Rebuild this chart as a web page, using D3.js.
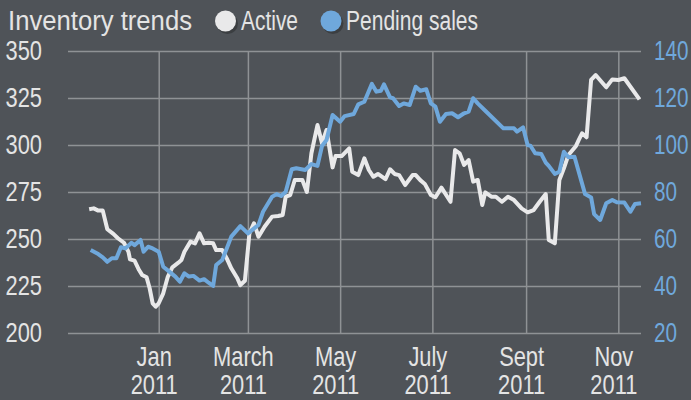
<!DOCTYPE html>
<html>
<head>
<meta charset="utf-8">
<script src="https://cdn.jsdelivr.net/npm/d3@7"></script>
<style>
  body { margin: 0; background: #4f5358; }
  svg text { font-family: "Liberation Sans", Arial, sans-serif; }
</style>
</head>
<body>
<div id="chart"></div>
<script>
// values
const activeDates = ["2010-11-16","2010-11-19","2010-11-22","2010-11-25","2010-11-28","2010-12-02","2010-12-05","2010-12-09","2010-12-12","2010-12-13","2010-12-16","2010-12-19","2010-12-21","2010-12-24","2010-12-26","2010-12-28","2010-12-30","2011-01-01","2011-01-04","2011-01-07","2011-01-10","2011-01-14","2011-01-16","2011-01-18","2011-01-22","2011-01-25","2011-01-28","2011-01-31","2011-02-03","2011-02-06","2011-02-08","2011-02-12","2011-02-15","2011-02-18","2011-02-22","2011-02-24","2011-02-27","2011-03-02","2011-03-05","2011-03-08","2011-03-12","2011-03-17","2011-03-21","2011-03-24","2011-03-26","2011-03-29","2011-04-01","2011-04-06","2011-04-09","2011-04-12","2011-04-16","2011-04-19","2011-04-22","2011-04-26","2011-04-28","2011-05-02","2011-05-07","2011-05-09","2011-05-13","2011-05-17","2011-05-20","2011-05-23","2011-05-26","2011-05-31","2011-06-03","2011-06-06","2011-06-09","2011-06-13","2011-06-18","2011-06-20","2011-06-23","2011-06-26","2011-06-30","2011-07-03","2011-07-07","2011-07-13","2011-07-16","2011-07-19","2011-07-22","2011-07-25","2011-07-28","2011-07-31","2011-08-03","2011-08-05","2011-08-09","2011-08-12","2011-08-16","2011-08-20","2011-08-24","2011-08-29","2011-09-02","2011-09-06","2011-09-10","2011-09-14","2011-09-16","2011-09-20","2011-09-23","2011-09-26","2011-09-29","2011-10-04","2011-10-06","2011-10-08","2011-10-11","2011-10-14","2011-10-17","2011-10-24","2011-10-28","2011-11-01","2011-11-05","2011-11-15"]
const activeValues = [265.8,266.3,265.1,265.1,255.2,252.7,250.4,248.0,243.2,239.2,238.5,233.5,230.9,229.6,223.8,215.8,214.0,215.8,221.1,229.9,234.9,237.4,238.8,243.2,248.6,247.7,253.0,247.7,248.0,247.7,244.1,244.1,239.7,234.4,229.1,225.5,227.8,253.0,258.4,251.2,256.5,261.9,262.2,262.8,272.5,273.4,281.4,281.4,275.0,295.6,310.6,300.9,308.0,288.1,294.1,294.1,298.2,285.8,284.0,292.9,286.7,283.1,284.6,281.8,287.1,284.6,284.0,278.7,284.0,284.0,281.3,279.3,273.4,272.2,277.3,269.8,297.3,295.6,289.4,292.0,280.5,281.4,268.1,274.8,272.5,272.5,269.8,272.5,270.7,266.3,264.2,265.4,269.8,273.9,249.5,247.7,281.4,287.6,294.7,299.5,303.0,306.2,304.1,334.6,337.2,330.7,334.9,334.6,335.5,324.3]

const pendingDates = ["2010-11-17","2010-11-22","2010-11-25","2010-11-28","2010-12-01","2010-12-04","2010-12-07","2010-12-10","2010-12-14","2010-12-16","2010-12-20","2010-12-22","2010-12-25","2010-12-28","2011-01-01","2011-01-04","2011-01-08","2011-01-12","2011-01-15","2011-01-18","2011-01-21","2011-01-24","2011-01-28","2011-01-31","2011-02-03","2011-02-06","2011-02-08","2011-02-12","2011-02-15","2011-02-18","2011-02-24","2011-03-01","2011-03-08","2011-03-11","2011-03-17","2011-03-20","2011-03-23","2011-03-26","2011-03-30","2011-04-02","2011-04-08","2011-04-12","2011-04-16","2011-04-19","2011-04-22","2011-04-26","2011-05-01","2011-05-04","2011-05-10","2011-05-13","2011-05-17","2011-05-22","2011-05-25","2011-05-28","2011-05-30","2011-06-03","2011-06-05","2011-06-09","2011-06-12","2011-06-16","2011-06-20","2011-06-23","2011-06-27","2011-06-30","2011-07-03","2011-07-06","2011-07-10","2011-07-14","2011-07-18","2011-07-22","2011-07-25","2011-07-28","2011-07-31","2011-08-05","2011-08-17","2011-08-24","2011-08-26","2011-08-30","2011-09-02","2011-09-04","2011-09-07","2011-09-11","2011-09-14","2011-09-16","2011-09-20","2011-09-23","2011-09-26","2011-09-29","2011-10-03","2011-10-10","2011-10-14","2011-10-16","2011-10-20","2011-10-24","2011-10-28","2011-10-31","2011-11-05","2011-11-09","2011-11-12","2011-11-16"]
const pendingValues = [55.3,53.6,52.2,50.3,51.8,51.8,56.5,56.0,58.4,57.4,59.6,54.6,56.7,56.0,54.6,48.2,46.1,44.0,41.8,45.4,44.0,44.3,42.3,42.9,41.4,40.0,48.9,51.1,56.0,61.0,65.5,62.4,66.0,71.6,78.0,79.1,78.3,80.1,89.7,90.1,89.4,91.9,91.1,99.6,102.1,112.8,109.9,112.3,113.2,117.3,118.4,126.0,122.7,123.1,125.8,120.3,119.9,116.6,117.7,117.0,124.8,123.1,123.7,117.7,116.3,109.9,113.2,113.5,111.8,113.5,114.2,119.9,117.7,114.6,107.1,107.1,105.7,107.5,100.0,99.6,96.5,96.2,92.5,91.1,87.7,88.6,97.1,94.8,95.0,79.1,77.7,70.6,68.1,75.2,76.6,75.6,75.5,71.6,74.9,75.2]

const leftTicks = [200, 225, 250, 275, 300, 325, 350]
const rightTicks = [20, 40, 60, 80, 100, 120, 140]
const monthTicks = ["2011-01-01","2011-03-01","2011-05-01","2011-07-01","2011-09-01","2011-11-01"]
const monthLabels = ["Jan", "March", "May", "July", "Sept", "Nov"]
const yearLabel = "2011"
const titleText = "Inventory trends"
const seriesNames = ["Active", "Pending sales"]

const W = 691, H = 400
const plotLeft = 68, plotRight = 641, plotTop = 51, plotBottom = 333
const white = "#e9e9ea", blue = "#6fa8dc", grid = "#8f9295", ink = "#e4e4e4"
const squeeze = 0.78   // the reference font is a narrow one

const parse = d3.timeParse("%Y-%m-%d")
const active = activeDates.map((d, i) => ({date: parse(d), value: activeValues[i]}))
const pending = pendingDates.map((d, i) => ({date: parse(d), value: pendingValues[i]}))

function narrow(sel, f) {
    sel.each(function() {
        d3.select(this)
            .attr("textLength", this.getComputedTextLength() * f)
            .attr("lengthAdjust", "spacingAndGlyphs")
    })
}

let svg = d3.select("#chart").append("svg")
    .attr("width", W)
    .attr("height", H)

svg.append("rect").attr("width", W).attr("height", H).attr("fill", "#4f5358")

let x = d3.scaleTime()
    .domain([new Date(2010, 10, 2), new Date(2011, 10, 16)])
    .range([plotLeft, plotRight])
let yL = d3.scaleLinear().domain([200, 350]).range([plotBottom, plotTop])
let yR = d3.scaleLinear().domain([20, 140]).range([plotBottom, plotTop])

// horizontal grid + left labels
let gl = svg.append("g")
    .attr("transform", "translate(" + plotLeft + ",0)")
    .call(d3.axisLeft(yL).tickValues(leftTicks).tickSize(-(plotRight - plotLeft)).tickPadding(26))
gl.select(".domain").remove()
gl.selectAll("line").attr("stroke", grid).attr("stroke-width", 1.5)
gl.selectAll("text").attr("fill", ink).style("font-size", "28px").call(narrow, squeeze)

// vertical grid + month labels
let gb = svg.append("g")
    .attr("transform", "translate(0," + plotBottom + ")")
    .call(d3.axisBottom(x).tickValues(monthTicks.map(parse)).tickSize(-(plotBottom - plotTop)).tickPadding(13)
        .tickFormat((d, i) => monthLabels[i]))
gb.select(".domain").remove()
gb.selectAll("line").attr("stroke", grid).attr("stroke-width", 1.5)
gb.selectAll("text")
    .attr("fill", ink)
    .attr("x", -5)
    .style("font-size", "28px")
    .call(narrow, squeeze)
gb.selectAll(".tick").append("text")
    .attr("x", -5)
    .attr("y", 61)
    .attr("text-anchor", "middle")
    .attr("fill", ink)
    .style("font-size", "28px")
    .text(yearLabel)
    .call(narrow, squeeze)

// right labels, squeezed with a transform so their box stays inside the page
const rightSqueeze = 0.74
let gr = svg.append("g")
    .attr("transform", "translate(" + plotRight + ",0)")
    .call(d3.axisRight(yR).tickValues(rightTicks).tickSize(0).tickPadding(13))
gr.select(".domain").remove()
gr.selectAll("text")
    .attr("fill", blue)
    .style("font-size", "28px")
    .attr("x", 13 / rightSqueeze)
    .attr("transform", "scale(" + rightSqueeze + ",1)")

// lines
let line = y => d3.line().x(d => x(d.date)).y(d => y(d.value))

svg.append("path")
    .datum(active)
    .attr("d", line(yL))
    .attr("fill", "none")
    .attr("stroke", white)
    .attr("stroke-width", 4)
    .attr("stroke-linejoin", "round")

svg.append("path")
    .datum(pending)
    .attr("d", line(yR))
    .attr("fill", "none")
    .attr("stroke", blue)
    .attr("stroke-width", 4)
    .attr("stroke-linejoin", "round")

// title and legend
svg.append("text")
    .attr("x", 8).attr("y", 30)
    .attr("fill", ink)
    .style("font-size", "27px")
    .attr("textLength", 184)
    .attr("lengthAdjust", "spacingAndGlyphs")
    .text(titleText)

let legend = [
    {name: seriesNames[0], color: white, cx: 225.5, tx: 241, w: 57},
    {name: seriesNames[1], color: blue, cx: 331, tx: 346, w: 132}
]
legend.forEach(l => {
    svg.append("circle").attr("cx", l.cx + 2).attr("cy", 23.5).attr("r", 10.5).attr("fill", "#36393c").attr("opacity", 0.8)
    svg.append("circle").attr("cx", l.cx).attr("cy", 21).attr("r", 10.5).attr("fill", l.color)
    svg.append("text")
        .attr("x", l.tx).attr("y", 30)
        .attr("fill", ink)
        .style("font-size", "27px")
        .attr("textLength", l.w)
        .attr("lengthAdjust", "spacingAndGlyphs")
        .text(l.name)
})
</script>
</body>
</html>
